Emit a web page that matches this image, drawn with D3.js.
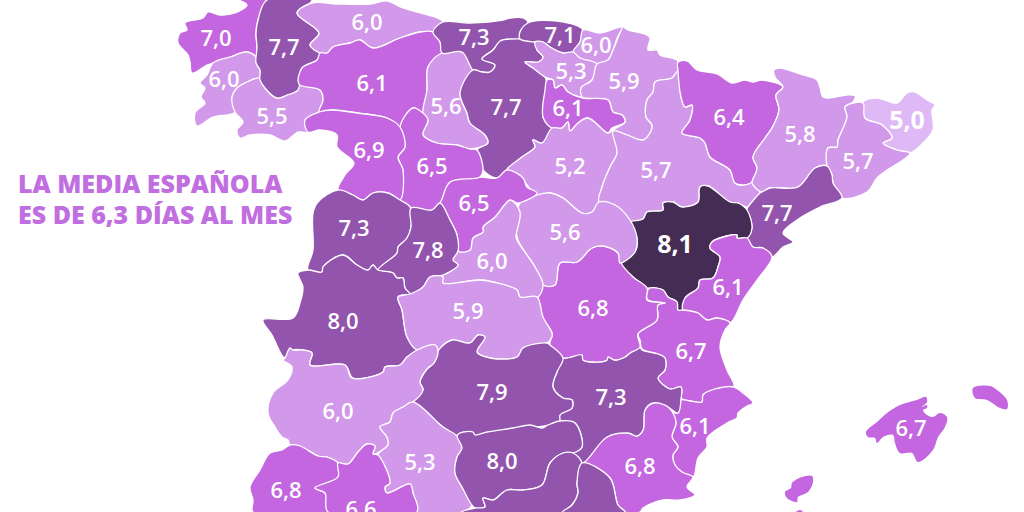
<!DOCTYPE html>
<html>
<head>
<meta charset="utf-8">
<script src="https://cdn.jsdelivr.net/npm/d3@7"></script>
<style>
    html, body { margin: 0; padding: 0; background: #fff; }
    svg { display: block; }
    text { font-family: "Open Sans", sans-serif; }
</style>
</head>
<body>
<div id="chart"></div>
<script>
// days per month, province by province
const provinces = ["A Coruña", "Pontevedra", "Ourense", "Lugo", "Asturias", "León", "Palencia", "Cantabria", "Burgos", "Vizcaya",
    "Guipúzcoa", "Álava", "Navarra", "La Rioja", "Soria", "Zaragoza", "Huesca", "Lleida", "Girona", "Barcelona",
    "Tarragona", "Teruel", "Castellón", "Valencia", "Alicante", "Murcia", "Albacete", "Cuenca", "Guadalajara", "Madrid",
    "Segovia", "Valladolid", "Zamora", "Salamanca", "Ávila", "Cáceres", "Toledo", "Ciudad Real", "Badajoz", "Córdoba",
    "Jaén", "Granada", "Almería", "Huelva", "Sevilla", "Mallorca", "Menorca", "Ibiza", "Formentera"];

// Granada, Almería and the smaller islands have no readable label, their values are estimates from the colour
const values = [7.0, 6.0, 5.5, 7.7, 6.0, 6.1, 5.6, 7.3, 7.7, 7.1,
    6.0, 5.3, 5.9, 6.1, 5.2, 5.7, 6.4, 5.8, 5.0, 5.7,
    7.7, 8.1, 6.1, 6.7, 6.1, 6.8, 7.3, 6.8, 5.6, 6.0,
    6.5, 6.5, 6.9, 7.3, 7.8, 8.0, 5.9, 7.9, 6.0, 5.3,
    8.0, 7.5, 7.5, 6.8, 6.6, 6.7, 6.7, 6.7, 6.7];

const colorBreaks = [5.1, 6.05, 7.05, 8.05];
const colorRange = ["#dfb8f6", "#d298ea", "#c466e0", "#9254ad", "#452c55"];

const titleLines = ["LA MEDIA ESPAÑOLA", "ES DE 6,3 DÍAS AL MES"];

// province outlines, same order as above
const outlines = [
    "240,0 247,5 235,13 220,15 208,12 203,18 185,23 187,30 180,33 178,43 188,55 190,62 192,73 207,65 213,63 230,57 247,52 256,57 257,47 256,33 258,20 267,0",
    "213,63 230,57 247,52 256,57 260,70 260,79 245,83 237,88 232,97 235,112 213,117 197,126 195,113 205,103 201,97 205,88 200,83 207,75",
    "232,97 237,88 245,83 260,78 265,88 277,98 287,95 299,84 320,90 323,100 319,112 305,120 308,132 298,132 285,141 270,135 250,135 240,138 237,130 243,122 235,112",
    "267,0 258,20 256,33 257,47 256,63 260,70 260,80 265,88 277,98 287,95 298,90 302,68 317,60 320,53 310,45 319,33 297,13 310,3 312,0",
    "297,13 312,3 337,4 370,4 387,1 403,8 437,18 443,22 433,32 420,32 400,38 373,48 360,40 350,43 333,47 327,53 320,53 310,45 319,33",
    "320,53 327,53 333,47 350,43 360,40 373,48 400,38 420,32 433,32 440,42 442,53 428,67 427,90 423,113 413,108 400,127 387,118 357,113 332,110 319,112 323,100 320,90 299,84 302,68 317,60",
    "442,53 462,52 473,70 460,93 467,113 470,123 485,135 488,143 470,149 457,145 437,143 423,135 428,120 423,113 427,90 428,67",
    "433,32 443,22 470,23 503,20 510,18 523,18 528,23 520,32 520,39 503,40 493,50 482,59 495,65 490,72 482,72 473,70 462,52 442,53 440,42",
    "500,41 510,39 535,42 537,50 543,57 538,62 525,62 533,68 545,77 547,90 543,117 552,128 542,143 533,140 535,147 522,157 507,170 497,178 483,170 477,150 488,143 485,135 470,123 467,113 460,93 473,70 482,72 490,72 495,65 482,59 493,50",
    "520,32 528,23 557,21 583,30 580,42 573,52 563,53 550,47 543,42 535,42 520,39",
    "583,30 600,33 623,27 628,31 620,33 613,50 608,60 597,64 580,58 573,52 580,42",
    "535,42 543,42 550,47 563,53 573,52 580,58 597,64 592,80 581,88 583,97 568,92 562,85 555,88 553,80 545,77 533,68 525,62 538,62 543,57 537,50",
    "623,27 628,30 647,35 650,38 648,50 657,50 660,55 678,61 678,71 672,78 655,82 653,92 647,100 646,117 652,125 650,133 643,140 627,135 613,131 625,122 622,115 613,112 608,100 583,98 581,88 592,80 597,64 608,60 613,50 620,33",
    "547,80 553,80 555,88 562,85 568,92 583,98 608,100 613,112 622,115 625,122 612,128 608,133 588,118 578,123 570,131 568,122 562,128 552,128 543,117 545,90",
    "552,128 562,128 568,122 570,131 578,123 588,118 608,133 613,131 617,153 610,167 602,187 599,202 592,212 582,213 563,198 550,193 537,195 527,185 520,175 507,170 522,157 535,147 533,140 542,143",
    "678,71 681,97 685,107 692,105 690,120 682,133 700,138 705,143 710,157 723,165 730,170 735,183 742,185 752,182 760,193 748,207 738,203 730,202 708,186 700,187 698,202 682,207 673,202 663,203 663,210 647,212 643,219 630,222 615,205 599,202 602,187 610,167 617,153 613,131 627,135 643,140 650,133 652,125 646,117 647,100 653,92 655,82 672,78",
    "678,62 687,61 697,70 717,74 732,83 745,80 753,82 762,80 783,87 776,95 779,110 772,128 765,138 753,157 757,168 752,182 742,185 735,183 730,170 723,165 710,157 705,143 700,138 682,133 690,120 692,105 685,107 681,97 678,71",
    "774,70 780,68 803,75 817,80 823,97 828,98 847,95 855,96 853,102 845,107 847,117 838,140 837,147 828,148 827,165 815,168 798,187 770,188 762,192 753,185 752,182 757,168 753,157 765,138 772,128 779,110 776,95 783,87 775,77",
    "863,102 877,98 897,103 907,93 915,92 927,100 935,105 932,110 933,130 923,143 910,153 897,150 883,143 892,138 882,125 865,118",
    "845,107 853,103 863,103 865,118 882,125 892,138 883,143 897,150 910,153 903,160 887,170 877,178 867,192 842,198 833,183 832,175 827,166 828,148 837,147 838,140 847,117",
    "827,166 832,175 833,183 842,198 820,207 797,220 783,233 793,242 783,247 772,257 763,248 753,247 747,238 752,228 747,209 748,207 760,193 762,192 770,188 798,187 815,168",
    "630,222 643,219 647,212 663,210 663,203 673,202 682,207 698,202 700,187 708,186 730,202 738,203 747,210 752,228 747,238 737,238 737,235 727,236 712,242 710,248 720,257 718,267 713,278 700,280 698,288 685,298 683,310 678,310 677,302 668,297 663,290 650,288 647,288 633,277 620,263 635,252 637,238 632,227",
    "712,242 727,236 737,235 737,238 747,238 753,247 763,248 772,257 757,280 743,300 730,323 717,318 707,320 698,313 683,310 685,298 698,288 700,280 713,278 718,267 720,257 710,248",
    "647,292 650,288 663,290 668,297 677,302 678,310 683,310 698,313 707,320 717,318 730,323 725,330 720,347 727,370 734,387 715,389 703,395 702,402 690,401 682,399 681,387 670,389 658,378 665,370 665,358 658,354 642,349 640,340 638,334 657,320 658,305 665,303 648,300",
    "734,387 743,393 753,403 747,406 738,413 737,418 727,423 707,438 707,447 698,458 693,477 682,472 675,465 673,455 678,447 672,437 676,423 673,413 678,413 681,400 690,401 702,402 703,395 715,389",
    "673,413 665,405 653,403 645,410 643,430 637,436 628,433 607,437 582,463 610,478 618,505 625,512 640,512 643,508 663,500 680,500 695,495 687,487 693,477 682,472 675,465 673,455 678,447 672,437 676,423",
    "563,358 582,355 583,360 593,362 607,360 608,357 615,360 625,357 630,353 640,347 642,350 658,354 665,358 665,370 658,378 670,389 681,387 681,399 678,413 665,405 653,403 645,410 643,430 637,436 628,433 607,437 582,463 573,453 582,447 575,423 560,423 560,415 572,408 572,400 563,398 553,387 557,372",
    "537,307 543,285 555,285 560,263 577,262 592,248 603,246 618,253 621,263 633,277 647,288 647,300 665,303 658,305 657,320 638,334 640,347 630,353 625,357 615,360 608,357 607,360 593,362 583,360 582,355 563,358 550,345 552,333 540,315",
    "537,195 550,193 563,198 582,213 592,212 599,202 615,205 630,220 637,238 635,252 620,263 618,253 603,246 592,248 577,262 560,263 555,285 543,285 535,267 518,240 516,223 520,203",
    "510,200 520,212 516,237 518,242 535,267 543,285 537,298 520,297 517,290 493,282 480,280 443,283 443,275 458,265 453,260 458,251 470,250 473,238 483,232 483,227 495,217",
    "440,203 450,182 480,177 497,178 507,170 523,178 527,187 537,193 522,202 517,203 510,200 495,217 483,227 483,232 473,238 470,250 458,251 457,235 450,220",
    "400,127 413,108 423,113 428,120 423,135 437,143 457,145 470,149 477,150 483,170 480,177 450,182 440,203 432,210 410,207 400,200 403,170 398,157 405,147",
    "305,120 319,112 332,110 357,113 387,118 400,127 405,147 398,157 403,170 400,200 388,193 373,193 363,200 353,195 338,190 345,175 354,163 337,147 337,135 320,130 308,132",
    "338,190 353,195 363,200 373,193 388,193 400,200 410,207 411,227 407,238 398,247 397,253 378,270 373,265 368,270 357,265 343,255 323,267 322,272 308,270 313,250 313,213 318,202",
    "411,208 432,210 440,203 450,220 457,235 458,251 453,260 458,265 443,275 430,277 423,287 410,294 405,288 403,278 397,278 393,273 378,270 397,253 398,247 407,238 411,227",
    "298,273 308,270 322,272 323,267 343,255 357,265 368,270 373,265 378,270 393,273 397,278 403,278 405,288 410,294 398,297 402,310 407,337 417,350 407,357 400,365 385,367 383,372 353,378 345,365 310,365 312,353 302,350 293,350 285,358 272,335 263,320 293,318 300,303 303,287",
    "398,297 410,294 423,287 430,277 443,277 443,283 480,280 493,282 517,290 520,297 537,297 543,317 552,333 552,337 547,343 523,348 517,357 490,358 477,352 485,337 478,335 470,343 452,340 438,351 435,345 417,350 407,337 402,310",
    "438,351 452,340 470,343 478,335 485,337 477,352 490,358 517,357 523,348 547,343 550,345 563,358 557,372 553,387 563,398 572,400 572,408 560,415 560,423 550,425 538,427 513,430 487,434 475,437 473,433 460,433 457,436 443,427 413,402 423,390 420,382 427,369 434,363",
    "283,360 285,358 290,348 293,350 302,350 312,353 310,365 345,365 352,378 383,372 385,367 400,365 407,357 417,350 435,345 438,351 434,363 427,369 420,382 423,390 413,402 403,407 393,413 390,422 380,427 387,437 388,445 373,454 375,446 367,444 358,452 348,464 338,463 327,457 318,456 300,446 290,445 288,440 282,437 275,427 268,413 273,393 288,380 292,367",
    "380,427 390,422 393,413 403,407 413,402 443,427 457,436 462,448 457,457 455,473 462,487 472,505 462,512 417,512 413,493 410,484 387,493 385,487 390,483 378,455 388,445 387,437",
    "457,436 460,433 473,432 475,435 487,432 513,428 530,425 542,428 548,425 560,421 575,423 582,447 573,453 563,453 550,463 542,485 523,490 507,490 493,500 483,498 485,507 475,508 462,487 455,473 457,457 462,448",
    "475,508 485,507 483,498 493,500 507,490 523,490 542,485 550,463 563,453 573,453 582,463 577,483 578,493 572,505 563,512 462,512",
    "582,463 610,478 618,505 625,512 563,512 572,505 578,493 577,483",
    "250,487 260,470 270,453 282,450 290,445 300,446 318,456 327,457 338,463 338,477 315,488 325,493 328,512 253,512 253,500",
    "315,488 338,477 338,463 348,464 358,452 367,444 375,446 373,454 378,455 390,483 385,487 387,493 410,484 413,493 417,512 328,512 325,493",
    "866,432 877,422 887,413 900,405 917,400 926,397 927,402 922,407 927,405 927,408 923,410 927,415 933,417 940,413 947,417 945,427 938,437 933,450 918,462 912,453 900,453 895,443 893,435 883,437 877,443 875,438 868,437",
    "973,388 990,386 997,390 1007,400 1007,409 1000,408 987,400 975,398",
    "785,492 791,488 792,483 802,477 812,476 813,482 808,492 798,497 797,502 787,498",
    "796,512 800,510 803,512"
];

// where each number sits, null where the picture cuts it off
const labelAt = [[216, 38], [224, 79], [272, 116], [284, 47], [367, 22], [372, 83], [446, 106], [474, 37], [506, 107], [560, 35],
    [596, 45], [571, 71], [624, 81], [568, 108], [570, 166], [656, 170], [729, 117], [800, 134], [907, 120], [858, 161],
    [777, 213], [675, 244], [728, 287], [691, 351], [695, 426], [640, 466], [611, 397], [593, 308], [565, 232], [492, 261],
    [474, 203], [432, 166], [369, 150], [354, 228], [428, 250], [343, 321], [468, 311], [492, 392], [338, 411], [420, 462],
    [502, 461], null, null, [286, 490], [361, 509], [911, 428], null, null, null];

const width = 1024;
const height = 512;

const svg = d3.select("#chart").append("svg")
    .attr("width", width)
    .attr("height", height);

const color = d3.scaleThreshold().domain(colorBreaks).range(colorRange);
const outline = d3.line().curve(d3.curveCatmullRomClosed.alpha(0.5));
const fmt = v => v.toFixed(1).replace(".", ",");
const isIsland = name => /Mallorca|Menorca|Ibiza|Formentera/.test(name);
const isExtreme = v => v >= 8.1 || v <= 5.0;

const ring = s => s.split(" ").map(p => p.split(",").map(Number));

const shapes = provinces.map((name, i) => ({ name, value: values[i], label: labelAt[i], points: ring(outlines[i]) }));

svg.append("g")
    .selectAll("path")
    .data(shapes)
    .enter()
    .append("path")
    .attr("d", d => outline(d.points))
    .attr("fill", d => color(d.value))
    .attr("stroke", d => isIsland(d.name) ? "none" : "#fff")
    .attr("stroke-width", 1.3)
    .attr("stroke-linejoin", "round");

svg.append("g")
    .selectAll("text")
    .data(shapes.filter(d => d.label))
    .enter()
    .append("text")
    .attr("x", d => d.label[0])
    .attr("y", d => d.label[1])
    .attr("dy", "0.36em")
    .attr("text-anchor", "middle")
    .attr("fill", "#fff")
    .attr("font-size", d => isExtreme(d.value) ? 25 : 22)
    .attr("font-weight", d => isExtreme(d.value) ? 700 : 600)
    .text(d => fmt(d.value));

svg.append("g")
    .selectAll("text")
    .data(titleLines)
    .enter()
    .append("text")
    .attr("x", 18)
    .attr("y", (d, i) => 193 + i * 31)
    .attr("fill", "#c06ee0")
    .attr("font-size", 25)
    .attr("font-weight", 800)
    .text(d => d);
</script>
</body>
</html>
